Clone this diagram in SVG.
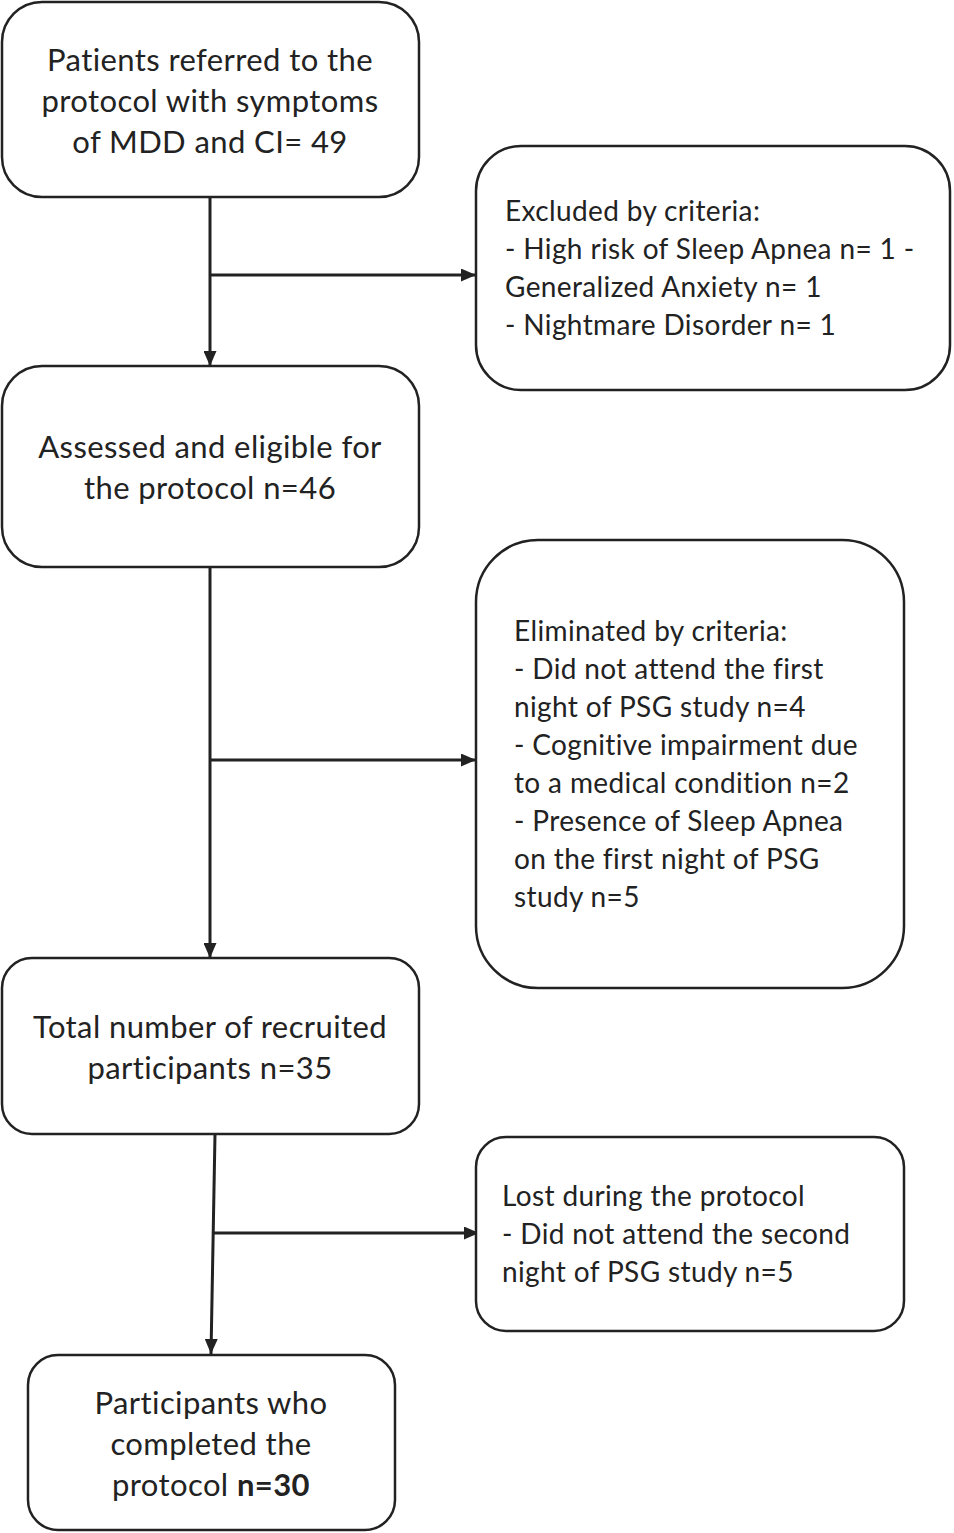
<svg xmlns="http://www.w3.org/2000/svg" width="954" height="1533" viewBox="0 0 954 1533">
<defs>
<style>
.box{fill:#fff;stroke:#222;stroke-width:2.5}
.c{font-family:Lato,"Open Sans","Liberation Sans",sans-serif;font-size:31px;letter-spacing:0.4px;fill:#222;text-anchor:middle}
.l{font-family:Lato,"Open Sans","Liberation Sans",sans-serif;font-size:28px;letter-spacing:0.37px;fill:#222}
.ln{stroke:#222;stroke-width:3;fill:none}
</style>
<marker id="a" viewBox="0 0 10 10" refX="10" refY="5" markerWidth="15" markerHeight="13" markerUnits="userSpaceOnUse" orient="auto" preserveAspectRatio="none">
<path d="M0,0 L10,5 L0,10 z" fill="#222"/>
</marker>
</defs>
<rect width="954" height="1533" fill="#fff"/>
<g id="connectors">
<line class="ln" x1="210" y1="197" x2="210" y2="366" marker-end="url(#a)"/>
<line class="ln" x1="210" y1="275" x2="476" y2="275" marker-end="url(#a)"/>
<line class="ln" x1="210" y1="567" x2="210" y2="958" marker-end="url(#a)"/>
<line class="ln" x1="210" y1="760" x2="476" y2="760" marker-end="url(#a)"/>
<line class="ln" x1="215" y1="1134" x2="211" y2="1354" marker-end="url(#a)"/>
<line class="ln" x1="213" y1="1233" x2="479" y2="1233" marker-end="url(#a)"/>
</g>
<g id="n1">
<rect class="box" x="2" y="2" width="417" height="195" rx="40"/>
<text class="c" x="210" y="71">Patients referred to the</text>
<text class="c" x="210" y="112">protocol with symptoms</text>
<text class="c" x="210" y="153">of MDD and CI= 49</text>
</g>
<g id="n2">
<rect class="box" x="476" y="146" width="474" height="244" rx="45"/>
<text class="l" x="505" y="221">Excluded by criteria:</text>
<text class="l" x="505" y="259">- High risk of Sleep Apnea n= 1 -</text>
<text class="l" x="505" y="297">Generalized Anxiety n= 1</text>
<text class="l" x="505" y="335">- Nightmare Disorder n= 1</text>
</g>
<g id="n3">
<rect class="box" x="2" y="366" width="417" height="201" rx="40"/>
<text class="c" x="210" y="458">Assessed and eligible for</text>
<text class="c" x="210" y="499">the protocol n=46</text>
</g>
<g id="n4">
<rect class="box" x="476" y="540" width="428" height="448" rx="62"/>
<text class="l" x="514" y="641">Eliminated by criteria:</text>
<text class="l" x="514" y="679">- Did not attend the first</text>
<text class="l" x="514" y="717">night of PSG study n=4</text>
<text class="l" x="514" y="755">- Cognitive impairment due</text>
<text class="l" x="514" y="793">to a medical condition n=2</text>
<text class="l" x="514" y="831">- Presence of Sleep Apnea</text>
<text class="l" x="514" y="869">on the first night of PSG</text>
<text class="l" x="514" y="907">study n=5</text>
</g>
<g id="n5">
<rect class="box" x="2" y="958" width="417" height="176" rx="30"/>
<text class="c" x="210" y="1038">Total number of recruited</text>
<text class="c" x="210" y="1079">participants n=35</text>
</g>
<g id="n6">
<rect class="box" x="476" y="1137" width="428" height="194" rx="30"/>
<text class="l" x="502" y="1206">Lost during the protocol</text>
<text class="l" x="502" y="1244">- Did not attend the second</text>
<text class="l" x="502" y="1282">night of PSG study n=5</text>
</g>
<g id="n7">
<rect class="box" x="28" y="1355" width="367" height="175" rx="30"/>
<text class="c" x="211" y="1414">Participants who</text>
<text class="c" x="211" y="1455">completed the</text>
<text class="c" x="211" y="1496">protocol <tspan font-weight="bold">n=30</tspan></text>
</g>
</svg>
